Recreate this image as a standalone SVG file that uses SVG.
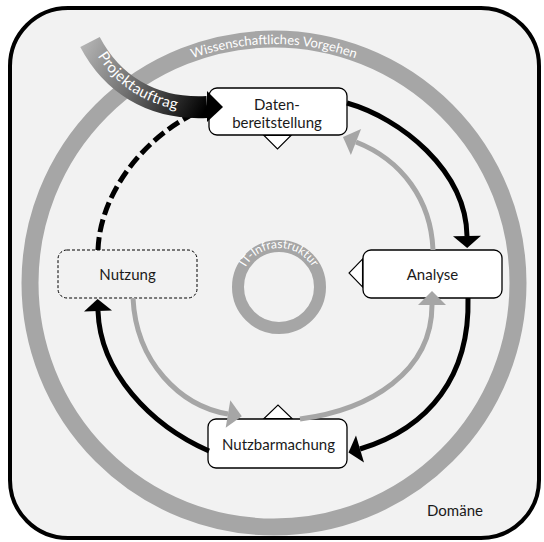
<svg xmlns="http://www.w3.org/2000/svg" width="544" height="542" viewBox="0 0 544 542">
  <defs>
    <style>
      .label { font-family: Lato, "Liberation Sans", sans-serif; font-size: 15px; fill: #1a1a1a; text-anchor: middle; }
      .ringtext { font-family: Lato, "Liberation Sans", sans-serif; fill: #ffffff; }
      .box { fill: #ffffff; stroke: #000000; stroke-width: 1.3; }
      .wedge { fill: #ffffff; stroke: #000000; stroke-width: 1.1; stroke-linejoin: miter; }
      .flow { fill: none; stroke: #000000; stroke-width: 5; }
      .back { fill: none; stroke: #a6a6a6; stroke-width: 5; }
    </style>
    <marker id="headBlack" markerUnits="userSpaceOnUse" markerWidth="14" markerHeight="28" refX="0" refY="14" orient="auto" overflow="visible">
      <path d="M0,0 L12,14 L0,28 Z" fill="#000000"/>
    </marker>
    <marker id="headGrey" markerUnits="userSpaceOnUse" markerWidth="16" markerHeight="28" refX="0" refY="14" orient="auto" overflow="visible">
      <path d="M0,0 L14,14 L0,28 Z" fill="#a6a6a6"/>
    </marker>
    <linearGradient id="mandateFade" gradientUnits="userSpaceOnUse" x1="85" y1="40" x2="207" y2="107">
      <stop offset="0" stop-color="#b4b4b4"/>
      <stop offset="0.45" stop-color="#6e6e6e"/>
      <stop offset="1" stop-color="#000000"/>
    </linearGradient>
    <path id="methodArc" d="M 35,283 A 239 239 0 0 1 513,283"/>
    <path id="infraArc" d="M 240,287 A 39 39 0 0 1 318,287"/>
    <path id="mandatePath" d="M 94,50 C 114,86 152,113 209,112"/>
  </defs>

  <!-- domain frame -->
  <g id="domain">
    <rect x="10" y="8" width="529" height="530" rx="58" ry="58" fill="#f2f2f2" stroke="#000000" stroke-width="4"/>
    <text class="label" x="455" y="516" font-size="14">Domäne</text>
  </g>

  <!-- scientific method ring -->
  <g id="method">
    <circle cx="274" cy="283" r="244" fill="none" stroke="#a6a6a6" stroke-width="17"/>
    <text class="ringtext" font-size="13"><textPath href="#methodArc" startOffset="50%" text-anchor="middle">Wissenschaftliches Vorgehen</textPath></text>
  </g>

  <!-- IT infrastructure ring -->
  <g id="infrastructure">
    <circle cx="279" cy="287" r="41" fill="none" stroke="#a6a6a6" stroke-width="12"/>
    <text class="ringtext" font-size="12"><textPath href="#infraArc" startOffset="50%" text-anchor="middle">IT-Infrastruktur</textPath></text>
  </g>

  <!-- process steps -->
  <g id="datenbereitstellung">
    <rect class="box" x="209" y="88" width="138" height="47" rx="8"/>
    <polygon class="wedge" points="264,135.5 291,135.5 277.5,149"/>
    <text class="label" x="277" y="109.5">Daten-</text>
    <text class="label" x="277" y="127.5">bereitstellung</text>
  </g>

  <g id="analyse">
    <rect class="box" x="363" y="250" width="139" height="48" rx="8"/>
    <polygon class="wedge" points="362.5,259 362.5,287 349,273"/>
    <text class="label" x="432.5" y="279.5">Analyse</text>
  </g>

  <g id="nutzbarmachung">
    <rect class="box" x="208" y="419" width="139" height="49" rx="8"/>
    <polygon class="wedge" points="264,418.5 292,418.5 278,405"/>
    <text class="label" x="278.5" y="449.5">Nutzbarmachung</text>
  </g>

  <g id="nutzung">
    <rect x="58" y="250" width="139" height="48" rx="9" fill="#f2f2f2" stroke="#000000" stroke-width="1" stroke-dasharray="3 2"/>
    <text class="label" x="127.5" y="279.5">Nutzung</text>
  </g>

  <!-- connectors -->
  <g id="connectors">
    <!-- main cycle -->
    <path class="flow" d="M 347,103 C 400,118 466,170 467,236" marker-end="url(#headBlack)"/>
    <path class="flow" d="M 468,298 C 470,375 430,428 360,449" marker-end="url(#headBlack)"/>
    <path class="flow" d="M 209,451 C 150,425 100,372 98,311" marker-end="url(#headBlack)"/>
    <path class="flow" d="M 98,250 C 100,190 150,128 212,106" stroke-dasharray="13 5"/>

    <!-- feedback loops -->
    <path class="back" d="M 433,250 C 431,200 402,160 356,142" marker-end="url(#headGrey)"/>
    <path class="back" d="M 300,419 C 370,410 432,372 432,305" marker-end="url(#headGrey)"/>
    <path class="back" d="M 133,298 C 136,362 180,406 228,414" marker-end="url(#headGrey)"/>

    <!-- project mandate -->
    <path d="M 90,42 C 111,82 150,110 207,107" fill="none" stroke="url(#mandateFade)" stroke-width="22"/>
    <polygon points="207,91 223,107 207,122" fill="#000000"/>
    <text class="ringtext" font-size="15" letter-spacing="0.3"><textPath href="#mandatePath" startOffset="7">Projektauftrag</textPath></text>
  </g>
</svg>
